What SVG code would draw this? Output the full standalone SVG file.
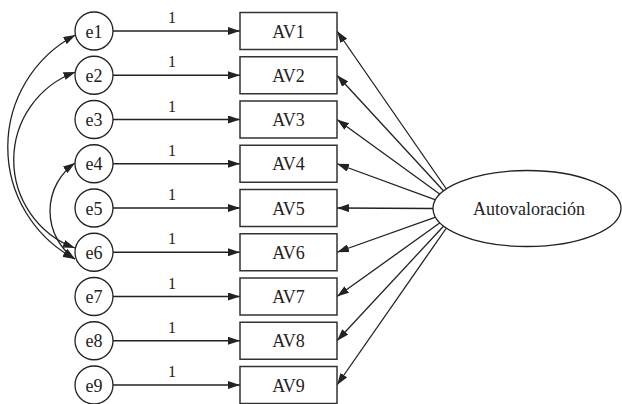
<svg xmlns="http://www.w3.org/2000/svg" width="622" height="404" viewBox="0 0 622 404">
<style>
text{fill:#222;text-anchor:middle}
.lbl{font-size:18px}
.one{font-size:16px}
.err circle{fill:#fff;stroke:#222;stroke-width:1.3}
.obs rect{fill:#fff;stroke:#333;stroke-width:1.5}
.lat ellipse{fill:#fff;stroke:#222;stroke-width:1.3}
.c path,.c line{fill:none;stroke:#222;stroke-width:1.3}
.one-way{marker-end:url(#ah)}
.two-way{marker-start:url(#ah);marker-end:url(#ah)}
</style>
<defs>
<marker id="ah" markerUnits="userSpaceOnUse" markerWidth="12" markerHeight="8" refX="12" refY="4" orient="auto-start-reverse" viewBox="0 0 12 8">
<path d="M0,0 L12,4 L0,8 z" fill="#222"/>
</marker>
</defs>
<g id="connectors" class="c">
<line class="one-way" x1="113" y1="31" x2="240" y2="31"/>
<line class="one-way" x1="113" y1="75.25" x2="240" y2="75.25"/>
<line class="one-way" x1="113" y1="119.5" x2="240" y2="119.5"/>
<line class="one-way" x1="113" y1="163.75" x2="240" y2="163.75"/>
<line class="one-way" x1="113" y1="208" x2="240" y2="208"/>
<line class="one-way" x1="113" y1="252.25" x2="240" y2="252.25"/>
<line class="one-way" x1="113" y1="296.5" x2="240" y2="296.5"/>
<line class="one-way" x1="113" y1="340.75" x2="240" y2="340.75"/>
<line class="one-way" x1="113" y1="385" x2="240" y2="385"/>
<line class="one-way" x1="446.4" y1="189" x2="337" y2="31"/>
<line class="one-way" x1="443.7" y1="191" x2="337" y2="75.25"/>
<line class="one-way" x1="440" y1="194.2" x2="337" y2="119.5"/>
<line class="one-way" x1="435.6" y1="199.8" x2="337" y2="163.75"/>
<line class="one-way" x1="433" y1="208.5" x2="337" y2="208"/>
<line class="one-way" x1="435.6" y1="217.2" x2="337" y2="252.25"/>
<line class="one-way" x1="440" y1="222.8" x2="337" y2="296.5"/>
<line class="one-way" x1="443.7" y1="226" x2="337" y2="340.75"/>
<line class="one-way" x1="446.4" y1="228" x2="337" y2="385"/>
<path class="two-way" d="M75.5,35 A126.7,126.7 0 0,0 75,259"/>
<path class="two-way" d="M75.5,72 A93.7,93.7 0 0,0 75,248"/>
<path class="two-way" d="M75,163 A58.6,58.6 0 0,0 75,259"/>
</g>
<g id="labels" font-family="'Liberation Serif', 'Times New Roman', 'DejaVu Serif', serif">
<text class="one" x="172" y="23">1</text>
<text class="one" x="172" y="67.25">1</text>
<text class="one" x="172" y="111.5">1</text>
<text class="one" x="172" y="155.75">1</text>
<text class="one" x="172" y="200">1</text>
<text class="one" x="172" y="244.25">1</text>
<text class="one" x="172" y="288.5">1</text>
<text class="one" x="172" y="332.75">1</text>
<text class="one" x="172" y="377">1</text>
</g>
<g id="nodes" font-family="'Liberation Serif', 'Times New Roman', 'DejaVu Serif', serif">
<g id="e1" class="err"><circle cx="94" cy="31" r="19"/><text class="lbl" x="94" y="37.5">e1</text></g>
<g id="e2" class="err"><circle cx="94" cy="75.25" r="19"/><text class="lbl" x="94" y="81.75">e2</text></g>
<g id="e3" class="err"><circle cx="94" cy="119.5" r="19"/><text class="lbl" x="94" y="126">e3</text></g>
<g id="e4" class="err"><circle cx="94" cy="163.75" r="19"/><text class="lbl" x="94" y="170.25">e4</text></g>
<g id="e5" class="err"><circle cx="94" cy="208" r="19"/><text class="lbl" x="94" y="214.5">e5</text></g>
<g id="e6" class="err"><circle cx="94" cy="252.25" r="19"/><text class="lbl" x="94" y="258.75">e6</text></g>
<g id="e7" class="err"><circle cx="94" cy="296.5" r="19"/><text class="lbl" x="94" y="303">e7</text></g>
<g id="e8" class="err"><circle cx="94" cy="340.75" r="19"/><text class="lbl" x="94" y="347.25">e8</text></g>
<g id="e9" class="err"><circle cx="94" cy="385" r="19"/><text class="lbl" x="94" y="391.5">e9</text></g>
<g id="AV1" class="obs"><rect x="240" y="12.5" width="97" height="37"/><text class="lbl" x="288.5" y="37.5">AV1</text></g>
<g id="AV2" class="obs"><rect x="240" y="56.75" width="97" height="37"/><text class="lbl" x="288.5" y="81.75">AV2</text></g>
<g id="AV3" class="obs"><rect x="240" y="101" width="97" height="37"/><text class="lbl" x="288.5" y="126">AV3</text></g>
<g id="AV4" class="obs"><rect x="240" y="145.25" width="97" height="37"/><text class="lbl" x="288.5" y="170.25">AV4</text></g>
<g id="AV5" class="obs"><rect x="240" y="189.5" width="97" height="37"/><text class="lbl" x="288.5" y="214.5">AV5</text></g>
<g id="AV6" class="obs"><rect x="240" y="233.75" width="97" height="37"/><text class="lbl" x="288.5" y="258.75">AV6</text></g>
<g id="AV7" class="obs"><rect x="240" y="278" width="97" height="37"/><text class="lbl" x="288.5" y="303">AV7</text></g>
<g id="AV8" class="obs"><rect x="240" y="322.25" width="97" height="37"/><text class="lbl" x="288.5" y="347.25">AV8</text></g>
<g id="AV9" class="obs"><rect x="240" y="366.5" width="97" height="37"/><text class="lbl" x="288.5" y="391.5">AV9</text></g>
<g id="Autovaloracion" class="lat"><ellipse cx="527" cy="208.5" rx="94" ry="38"/><text class="lbl" x="529" y="215">Autovaloración</text></g>
</g>
</svg>
